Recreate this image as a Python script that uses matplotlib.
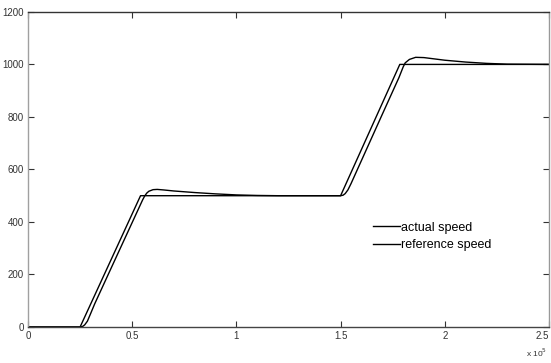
import numpy as np
import matplotlib.pyplot as plt

# Reference speed profile (time in units of 1e5)
ref_t = [0, 0.25, 0.54, 1.5, 1.784, 2.5]
ref_v = [0, 0, 500, 500, 1000, 1000]

# Measured speed: small lag on the ramps, overshoot, then settles
act_t = [0, 0.25, 0.262, 0.272, 0.285, 0.30, 0.32, 0.40, 0.50, 0.55, 0.56, 0.57,
         0.58, 0.60, 0.62, 0.65, 0.70, 0.80, 0.90, 1.00, 1.10, 1.20, 1.50,
         1.512, 1.522, 1.535, 1.55, 1.60, 1.70, 1.78, 1.79, 1.80, 1.81, 1.83,
         1.86, 1.90, 2.00, 2.10, 2.20, 2.30, 2.50]
act_v = [0, 0, 2, 8, 22, 50, 88, 226, 398, 484, 499, 510,
         517, 523, 524, 522, 518, 512, 507, 503, 501, 500, 500,
         502, 508, 522, 546, 634, 810, 950, 970, 990, 1006, 1019,
         1027, 1026, 1016, 1009, 1004, 1001, 1000]

fig = plt.figure(figsize=(5.51, 3.63), dpi=100)
ax = fig.add_axes([0.0508, 0.0992, 0.9456, 0.868])

scale = 1e5
ax.plot(np.array(act_t) * scale, act_v, color='black', linewidth=1.0, label='actual speed')
ax.plot(np.array(ref_t) * scale, ref_v, color='black', linewidth=1.0, label='reference speed')

ax.set_xlim(0, 2.5e5)
ax.set_ylim(0, 1200)
ax.set_xticks(np.arange(0, 2.51e5, 0.5e5))
ax.set_xticklabels(['0', '0.5', '1', '1.5', '2', '2.5'])
ax.set_yticks(np.arange(0, 1201, 200))

ax.tick_params(direction='in', length=4, width=0.8, top=True, right=True,
               labelsize=7, colors='#333333', pad=3)
for t in ax.get_xticklabels() + ax.get_yticklabels():
    t.set_fontfamily('Liberation Sans')
# last x label sits on the figure edge; keep it inside
ax.get_xticklabels()[-1].set_horizontalalignment('right')

ax.spines['top'].set_color('#333333')
ax.spines['bottom'].set_color('#444444')
ax.spines['left'].set_color('#a0a0a0')
ax.spines['right'].set_color('#999999')
for s in ax.spines.values():
    s.set_linewidth(1.0)

fig.text(0.993, 0.028, r'x 10$^5$', fontsize=6, color='#333333',
         ha='right', va='center', family='Liberation Sans')

ax.legend(loc='upper left', bbox_to_anchor=(0.652, 0.35), frameon=False,
          handlelength=2.2, handletextpad=0.1, labelspacing=0.45,
          prop={'family': 'Liberation Sans', 'size': 9}, borderaxespad=0)

fig.savefig('out.png', dpi=100)
